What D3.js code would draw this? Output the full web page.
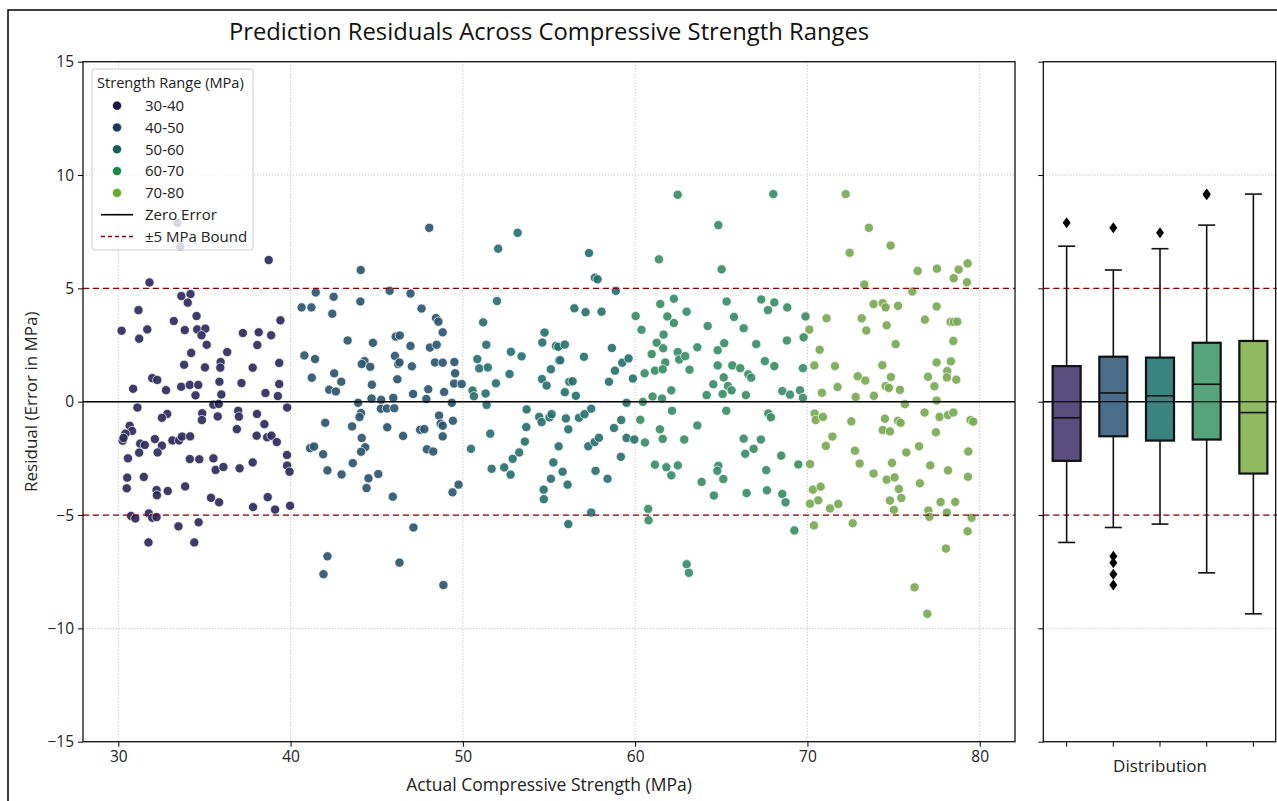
<!DOCTYPE html>
<html>
<head>
<meta charset="utf-8">
<script src="https://cdn.jsdelivr.net/npm/d3@7"></script>
<style>
  body { margin: 0; background: #fff; }
  svg { font-family: "Open Sans", sans-serif; }
</style>
</head>
<body>
<div id="chart"></div>
<script>
// strength groups
const groups = ["30-40", "40-50", "50-60", "60-70", "70-80"];
const legendColors = ["#1a1642", "#1e3a56", "#1d5b56", "#17874b", "#6ba92b"];
const pointColors = ["#2e2a5c", "#2d5670", "#28716e", "#3a8d69", "#7aa954"];
const boxColors = ["#5a4e7e", "#4a6d89", "#3a847f", "#55a47c", "#8fba5f"];

const xTicks = [30, 40, 50, 60, 70, 80];
const yTicks = [-15, -10, -5, 0, 5, 10, 15];

// [actual strength, residual]
const pts3040 = [[38.73,6.25],[31.81,5.26],[33.66,4.66],[34.19,4.75],[34.03,4.37],[31.17,4.04],[34.54,3.78],[33.22,3.56],[30.19,3.13],[31.68,3.19],[31.21,2.78],[33.86,3.16],[34.58,3.19],[35.05,3.22],[34.83,2.93],[35.13,2.51],[34.23,2.15],[36.32,2.19],[37.23,3.03],[38.15,3.06],[38.87,2.93],[38.07,2.5],[39.41,3.59],[33.82,1.63],[35.03,1.51],[35.94,1.75],[35.92,1.5],[37.8,1.5],[39.34,1.71],[31.97,1.04],[32.26,0.96],[30.86,0.57],[32.77,0.51],[33.65,0.66],[34.15,0.74],[34.64,0.74],[35.87,0.88],[37.15,0.82],[39.34,0.78],[34.48,0.28],[35.98,0.32],[38.54,0.38],[39.26,0.25],[31.11,-0.26],[35.52,-0.13],[35.83,-0.1],[39.8,-0.26],[32.84,-0.54],[32.53,-0.71],[34.87,-0.51],[34.85,-0.81],[35.77,-0.65],[36.96,-0.4],[37.0,-0.66],[38.05,-0.54],[38.48,-0.99],[30.66,-1.06],[30.8,-1.29],[30.41,-1.41],[30.25,-1.72],[30.3,-1.6],[36.88,-1.21],[38.03,-1.5],[38.64,-1.57],[38.89,-1.5],[39.2,-1.78],[31.27,-1.85],[31.54,-1.91],[32.12,-1.65],[32.53,-1.94],[32.28,-2.24],[31.21,-2.25],[33.14,-1.71],[33.53,-1.71],[33.7,-1.54],[34.17,-1.53],[30.56,-2.5],[34.15,-2.53],[34.7,-2.54],[35.52,-2.5],[35.65,-3.01],[36.1,-2.88],[37.04,-2.94],[37.8,-2.68],[39.79,-2.35],[39.8,-2.82],[39.94,-3.09],[30.52,-3.35],[31.48,-3.32],[30.49,-3.82],[32.22,-3.9],[32.24,-4.13],[32.87,-3.94],[33.88,-3.74],[35.38,-4.24],[35.85,-4.44],[37.82,-4.65],[38.67,-4.21],[39.1,-4.76],[39.97,-4.59],[30.74,-5.04],[30.99,-5.15],[31.77,-4.93],[31.97,-5.12],[32.22,-5.09],[33.49,-5.5],[34.66,-5.32],[31.75,-6.21],[34.41,-6.21],[33.43,7.89],[33.6,6.86]];

const pts4050 = [[48.05,7.67],[44.07,5.81],[41.46,4.82],[42.5,4.63],[45.75,4.89],[46.96,4.77],[40.64,4.16],[41.21,4.16],[44.05,4.42],[42.42,3.88],[47.6,4.11],[48.44,3.69],[48.58,3.53],[48.83,3.06],[43.31,2.7],[44.78,2.6],[46.1,2.87],[46.34,2.92],[46.96,2.46],[48.09,2.39],[48.48,2.51],[40.8,2.04],[41.42,1.88],[44.29,1.79],[44.13,1.66],[44.62,1.54],[46.06,2.02],[46.24,1.66],[46.32,1.73],[47.04,1.56],[48.38,1.73],[48.83,1.72],[49.51,1.75],[41.23,1.06],[42.53,1.25],[42.94,0.88],[42.24,0.53],[42.63,0.45],[44.72,0.75],[46.2,0.99],[49.55,1.25],[49.49,0.8],[49.93,0.78],[47.99,0.55],[48.91,0.43],[47.11,0.34],[44.7,0.14],[45.26,0.08],[45.96,0.17],[47.88,0.12],[43.92,-0.05],[49.36,-0.05],[45.24,-0.31],[45.59,-0.3],[46.02,-0.29],[44.09,-0.5],[44.0,-0.68],[42.01,-0.93],[43.57,-1.09],[45.61,-1.13],[44.13,-1.6],[44.33,-2.01],[44.09,-2.21],[46.53,-1.51],[47.52,-1.24],[47.76,-1.21],[48.62,-0.61],[48.71,-0.97],[48.83,-1.06],[49.42,-0.84],[48.83,-1.53],[41.13,-2.05],[41.36,-1.98],[41.89,-2.32],[47.91,-2.1],[48.28,-2.2],[42.14,-3.03],[42.96,-3.21],[43.61,-2.71],[44.52,-3.38],[45.09,-3.19],[44.41,-3.81],[45.93,-4.19],[49.75,-3.66],[49.4,-4.0],[47.13,-5.55],[42.14,-6.82],[41.91,-7.61],[46.32,-7.1],[48.87,-8.09]];

const pts5060 = [[53.18,7.45],[52.05,6.75],[57.32,6.56],[57.66,5.47],[57.82,5.4],[58.88,4.89],[51.98,4.44],[56.47,4.12],[57.12,3.95],[58.05,3.97],[51.18,3.5],[54.74,3.05],[54.61,2.61],[51.36,2.51],[55.4,2.46],[55.54,2.42],[55.92,2.52],[52.79,2.2],[53.41,2.0],[57.03,1.98],[58.65,2.37],[50.84,1.88],[50.95,1.47],[51.45,1.51],[55.58,1.82],[55.65,1.83],[55.11,1.43],[52.71,1.22],[59.25,1.72],[59.62,1.91],[58.83,1.37],[59.87,1.02],[58.48,0.88],[54.59,1.0],[54.86,0.71],[51.92,0.81],[56.18,0.88],[56.37,0.9],[55.92,0.42],[56.56,0.26],[50.56,0.49],[50.64,0.24],[51.32,0.36],[51.38,-0.14],[59.5,-0.05],[53.7,-0.34],[54.43,-0.67],[54.57,-0.9],[55.03,-0.69],[55.15,-0.55],[55.98,-0.74],[56.12,-1.22],[56.74,-0.71],[57.06,-0.55],[57.45,-0.31],[53.68,-1.12],[51.59,-1.41],[50.47,-2.08],[53.6,-1.76],[53.27,-2.24],[52.89,-2.52],[55.56,-1.97],[57.28,-1.97],[57.65,-1.78],[57.9,-1.59],[58.77,-1.16],[59.19,-0.81],[59.5,-1.6],[59.95,-1.67],[59.17,-2.43],[55.25,-2.68],[55.79,-3.09],[55.11,-3.4],[56.08,-3.66],[57.7,-3.05],[58.4,-3.4],[51.67,-2.96],[52.4,-2.9],[52.77,-3.22],[54.69,-3.88],[54.7,-4.3],[57.45,-4.89],[56.12,-5.4]];

const pts6070 = [[60.03,3.78],[60.37,3.17],[60.55,1.25],[60.45,-0.01],[60.3,-0.8],[60.57,-1.8],[60.76,-4.73],[60.78,-5.23],[62.47,9.13],[68.02,9.16],[64.83,7.79],[61.38,6.28],[65.02,5.84],[61.46,4.31],[62.25,4.54],[62.99,3.97],[65.31,4.42],[67.32,4.51],[67.71,4.04],[68.08,4.38],[68.83,4.16],[69.89,3.76],[61.87,3.76],[62.25,3.47],[64.21,3.34],[65.74,3.74],[66.3,3.24],[61.65,2.96],[61.25,2.6],[61.63,2.36],[60.96,2.1],[62.47,2.19],[62.56,1.86],[62.91,2.01],[63.61,2.4],[64.79,2.27],[65.17,2.58],[67.03,2.54],[68.81,2.7],[69.78,2.84],[61.75,1.73],[61.15,1.37],[61.6,1.43],[63.16,1.41],[64.79,1.6],[65.64,1.6],[66.1,1.48],[66.57,1.21],[66.74,1.06],[67.53,1.79],[68.08,1.57],[69.74,1.48],[65.14,1.07],[64.54,0.77],[65.39,0.69],[65.6,0.5],[65.08,0.34],[62.1,0.5],[64.15,0.29],[66.43,0.29],[61.01,0.23],[61.56,0.14],[68.54,0.47],[68.99,0.31],[69.57,0.5],[69.74,0.17],[62.14,-0.4],[65.29,-0.4],[67.73,-0.52],[67.88,-0.69],[61.44,-1.22],[61.6,-1.64],[62.85,-1.67],[63.61,-1.05],[66.3,-1.63],[67.3,-1.67],[66.88,-2.08],[66.39,-2.3],[68.48,-2.38],[69.47,-2.77],[61.15,-2.78],[61.81,-2.89],[62.48,-2.81],[62.1,-3.25],[64.83,-2.83],[64.77,-3.05],[65.12,-3.41],[63.86,-3.54],[67.61,-3.02],[64.57,-4.14],[66.47,-4.03],[67.65,-3.91],[68.54,-4.07],[68.73,-4.44],[69.24,-5.68],[62.99,-7.17],[63.12,-7.55]];

const pts7080 = [[71.11,3.68],[70.11,3.18],[70.71,2.29],[70.4,1.6],[70.84,0.39],[70.42,-0.52],[70.48,-0.81],[70.9,-0.67],[71.07,-1.95],[70.15,-2.75],[70.32,-3.88],[70.77,-3.75],[70.15,-4.5],[70.63,-4.35],[71.31,-4.71],[70.38,-5.46],[72.22,9.16],[73.57,7.67],[72.45,6.57],[74.83,6.89],[76.4,5.77],[77.52,5.87],[78.78,5.83],[79.3,6.1],[78.49,5.45],[79.26,5.27],[73.3,5.17],[76.09,4.86],[73.84,4.31],[74.37,4.35],[74.54,4.16],[75.26,4.23],[77.5,4.2],[73.15,3.68],[73.42,3.14],[74.6,3.37],[76.82,3.62],[78.31,3.52],[78.5,3.52],[78.7,3.53],[75.12,2.54],[78.47,2.68],[71.6,1.57],[74.35,1.61],[77.5,1.73],[78.33,1.78],[78.12,1.35],[78.1,1.07],[78.64,0.97],[72.92,1.12],[73.36,0.93],[74.85,1.09],[74.54,0.69],[74.73,0.61],[75.37,0.52],[77.0,1.1],[77.37,0.68],[71.75,0.65],[72.8,0.21],[73.86,0.26],[75.66,-0.11],[77.5,0.05],[72.55,-0.87],[74.5,-0.75],[74.37,-1.25],[74.79,-1.31],[75.26,-0.84],[75.41,-0.93],[76.8,-0.48],[77.67,-0.67],[78.16,-0.59],[78.47,-0.48],[79.47,-0.81],[79.63,-0.88],[77.46,-1.35],[71.45,-1.54],[72.76,-2.16],[73.03,-2.73],[73.84,-3.17],[74.6,-3.44],[75.06,-3.34],[74.91,-2.7],[75.74,-2.24],[76.48,-1.97],[77.13,-2.81],[78.16,-3.03],[79.34,-2.2],[79.32,-3.31],[76.53,-3.6],[75.31,-3.85],[75.45,-4.25],[74.79,-4.36],[75.02,-4.77],[71.79,-4.51],[72.63,-5.36],[77.73,-4.43],[78.58,-4.42],[77.02,-4.8],[77.08,-5.08],[78.1,-4.89],[79.53,-5.12],[79.3,-5.72],[78.04,-6.48],[76.22,-8.19],[76.96,-9.36]];

const series = [pts3040, pts4050, pts5060, pts6070, pts7080];

const W = 1277, H = 801;
const svg = d3.select("#chart").append("svg")
    .attr("width", W).attr("height", H)
    .attr("viewBox", `0 0 ${W} ${H}`);

// outer frame
svg.append("rect")
    .attr("x", 8).attr("y", 10)
    .attr("width", 1300).attr("height", 830)
    .attr("fill", "none").attr("stroke", "#000").attr("stroke-width", 1.5);

const main = { left: 83, right: 1015, top: 61.7, bottom: 741.7 };
const side = { left: 1043.3, right: 1276.7 };

const x = d3.scaleLinear().domain([27.95, 82.05]).range([main.left, main.right]);
const y = d3.scaleLinear().domain([-15, 15]).range([main.bottom, main.top]);
const xb = d3.scaleBand().domain(groups).range([side.left, side.right]);

// grid
const grid = svg.append("g").attr("stroke", "#b5b5b5").attr("stroke-width", 0.8)
    .attr("stroke-dasharray", "1.2,1.8");
xTicks.forEach(t => grid.append("line")
    .attr("x1", x(t)).attr("x2", x(t)).attr("y1", main.top).attr("y2", main.bottom));
yTicks.forEach(t => {
    grid.append("line").attr("x1", main.left).attr("x2", main.right)
        .attr("y1", y(t)).attr("y2", y(t));
    grid.append("line").attr("x1", side.left).attr("x2", side.right)
        .attr("y1", y(t)).attr("y2", y(t));
});

// points
series.forEach((pts, i) => {
    svg.append("g").selectAll("circle")
        .data(pts)
        .enter()
        .append("circle")
        .attr("cx", d => x(d[0]))
        .attr("cy", d => y(d[1]))
        .attr("r", 4.6)
        .attr("fill", pointColors[i])
        .attr("fill-opacity", 0.92)
        .attr("stroke", "#fff")
        .attr("stroke-width", 0.7);
});

// reference lines on both panels
[[main.left, main.right], [side.left, side.right]].forEach(([a, b]) => {
    svg.append("line").attr("x1", a).attr("x2", b)
        .attr("y1", y(0)).attr("y2", y(0))
        .attr("stroke", "#000").attr("stroke-width", 1.6);
    [5, -5].forEach(v => svg.append("line").attr("x1", a).attr("x2", b)
        .attr("y1", y(v)).attr("y2", y(v))
        .attr("stroke", "#8b0000").attr("stroke-width", 1.3)
        .attr("stroke-dasharray", "6,4"));
});

// boxplots
const boxW = xb.bandwidth() * 0.6, capW = 17;
series.forEach((pts, i) => {
    const vals = pts.map(d => d[1]).sort(d3.ascending);
    const q1 = d3.quantile(vals, 0.25), med = d3.quantile(vals, 0.5), q3 = d3.quantile(vals, 0.75);
    const iqr = q3 - q1;
    const inside = vals.filter(v => v >= q1 - 1.5 * iqr && v <= q3 + 1.5 * iqr);
    const lo = d3.min(inside), hi = d3.max(inside);
    const fliers = vals.filter(v => v < lo || v > hi);
    const cx = xb(groups[i]) + xb.bandwidth() / 2;
    const g = svg.append("g").attr("stroke", "#111").attr("stroke-width", 1.6);
    g.append("line").attr("x1", cx).attr("x2", cx).attr("y1", y(hi)).attr("y2", y(q3));
    g.append("line").attr("x1", cx).attr("x2", cx).attr("y1", y(q1)).attr("y2", y(lo));
    [hi, lo].forEach(v => g.append("line").attr("x1", cx - capW / 2).attr("x2", cx + capW / 2)
        .attr("y1", y(v)).attr("y2", y(v)));
    g.append("rect").attr("x", cx - boxW / 2).attr("width", boxW)
        .attr("y", y(q3)).attr("height", y(q1) - y(q3))
        .attr("fill", boxColors[i]).attr("stroke-width", 2.2);
    g.append("line").attr("x1", cx - boxW / 2).attr("x2", cx + boxW / 2)
        .attr("y1", y(0)).attr("y2", y(0)).attr("stroke", "#000").attr("stroke-width", 1.4)
        .attr("stroke-opacity", 0.8);
    g.append("line").attr("x1", cx - boxW / 2).attr("x2", cx + boxW / 2)
        .attr("y1", y(med)).attr("y2", y(med)).attr("stroke-width", 1.6);
    g.selectAll("path.flier").data(fliers).enter().append("path")
        .attr("d", d => `M${cx},${y(d) - 5.5}L${cx + 4},${y(d)}L${cx},${y(d) + 5.5}L${cx - 4},${y(d)}Z`)
        .attr("fill", "#000").attr("stroke", "none");
});

// axes
const axisFont = g => g.selectAll("text").attr("font-size", 15.5).attr("fill", "#222")
    .attr("font-family", "Open Sans, sans-serif");

svg.append("g")
    .attr("transform", `translate(0,${main.bottom})`)
    .call(d3.axisBottom(x).tickValues(xTicks).tickSize(5).tickPadding(4))
    .call(axisFont)
    .call(g => g.select(".domain").remove());

svg.append("g")
    .attr("transform", `translate(${main.left},0)`)
    .call(d3.axisLeft(y).tickValues(yTicks).tickSize(5).tickPadding(4).tickFormat(d => d < 0 ? "\u2212" + Math.abs(d) : d))
    .call(axisFont)
    .call(g => g.select(".domain").remove());

svg.append("g")
    .attr("transform", `translate(${side.left},0)`)
    .call(d3.axisLeft(y).tickValues(yTicks).tickSize(5).tickFormat(""))
    .call(g => g.select(".domain").remove());

svg.append("g")
    .attr("transform", `translate(0,${main.bottom})`)
    .call(d3.axisBottom(xb).tickSize(5).tickFormat(""))
    .call(g => g.select(".domain").remove());

// spines
svg.append("rect").attr("x", main.left).attr("y", main.top)
    .attr("width", main.right - main.left).attr("height", main.bottom - main.top)
    .attr("fill", "none").attr("stroke", "#111").attr("stroke-width", 1.3);
svg.append("rect").attr("x", side.left).attr("y", main.top)
    .attr("width", side.right - side.left - 1).attr("height", main.bottom - main.top)
    .attr("fill", "none").attr("stroke", "#111").attr("stroke-width", 1.3);

// titles and labels
svg.append("text")
    .attr("x", (main.left + main.right) / 2).attr("y", 39.5)
    .attr("text-anchor", "middle")
    .style("font-size", "23.8px").style("fill", "#111")
    .text("Prediction Residuals Across Compressive Strength Ranges");

svg.append("text")
    .attr("x", (main.left + main.right) / 2).attr("y", 791)
    .attr("text-anchor", "middle")
    .style("font-size", "17.5px").style("fill", "#222")
    .text("Actual Compressive Strength (MPa)");

svg.append("text")
    .attr("transform", `translate(37,${(main.top + main.bottom) / 2}) rotate(-90)`)
    .attr("text-anchor", "middle")
    .style("font-size", "17px").style("fill", "#222")
    .text("Residual (Error in MPa)");

svg.append("text")
    .attr("x", (side.left + side.right) / 2).attr("y", 772)
    .attr("text-anchor", "middle")
    .style("font-size", "17px").style("fill", "#222")
    .text("Distribution");

// legend
const lg = svg.append("g");
lg.append("rect").attr("x", 92).attr("y", 69).attr("width", 161).attr("height", 181)
    .attr("rx", 3).attr("fill", "#fff").attr("fill-opacity", 0.8)
    .attr("stroke", "#ccc").attr("stroke-width", 1);
lg.append("text").attr("x", 97).attr("y", 88)
    .style("font-size", "14.6px").style("fill", "#222").text("Strength Range (MPa)");
const rowY = i => 105.7 + i * 21.8;
groups.forEach((name, i) => {
    lg.append("circle").attr("cx", 117).attr("cy", rowY(i)).attr("r", 4.6)
        .attr("fill", legendColors[i]).attr("stroke", "#fff").attr("stroke-width", 0.7);
    lg.append("text").attr("x", 145).attr("y", rowY(i) + 5.2)
        .style("font-size", "15px").style("fill", "#222").text(name);
});
lg.append("line").attr("x1", 101).attr("x2", 133).attr("y1", rowY(5)).attr("y2", rowY(5))
    .attr("stroke", "#000").attr("stroke-width", 1.6);
lg.append("text").attr("x", 145).attr("y", rowY(5) + 5.2)
    .style("font-size", "15px").style("fill", "#222").text("Zero Error");
lg.append("line").attr("x1", 101).attr("x2", 133).attr("y1", rowY(6)).attr("y2", rowY(6))
    .attr("stroke", "#8b0000").attr("stroke-width", 1.3).attr("stroke-dasharray", "4,3");
lg.append("text").attr("x", 145).attr("y", rowY(6) + 5.2)
    .style("font-size", "15px").style("fill", "#222").text("\u00b15 MPa Bound");
</script>
</body>
</html>
